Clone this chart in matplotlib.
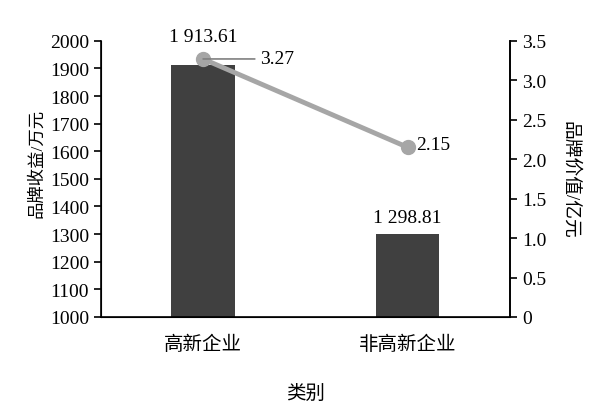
import numpy as np
import matplotlib
matplotlib.use('Agg')
import matplotlib.pyplot as plt

plt.rcParams['font.family'] = ['Liberation Serif', 'Noto Sans CJK SC']

# data
categories = ['高新企业', '非高新企业']
revenue = [1913.61, 1298.81]      # 品牌收益 / 万元
value = [3.27, 2.15]              # 品牌价值 / 亿元
revenue_labels = ['1 913.61', '1 298.81']
value_labels = ['3.27', '2.15']

fig = plt.figure(figsize=(6, 4.14), dpi=100)
ax = fig.add_axes([0.168, 0.232, 0.682, 0.667])
x = np.arange(len(categories))

ax.bar(x, np.array(revenue) - 1000, bottom=1000, width=0.31, color='#404040', zorder=2)
ax.set_ylim(1000, 2000)
ax.set_yticks(np.arange(1000, 2001, 100))
ax.set_xlim(-0.5, 1.5)
ax.set_xticks(x)
ax.set_xticklabels(categories, fontsize=14)
ax.tick_params(axis='y', labelsize=14, direction='out', length=5, width=1.2)
ax.tick_params(axis='x', length=0, pad=13)
ax.set_ylabel('品牌收益/万元', fontsize=12.5)
ax.yaxis.set_label_coords(-0.137, 0.56)
ax.set_xlabel('类别', fontsize=14, labelpad=22)
ax.spines['top'].set_visible(False)
for s in ['left', 'bottom', 'right']:
    ax.spines[s].set_linewidth(1.2)

# bar value labels (first one raised to clear the line marker)
offsets = [14, 6]
for xi, r, lab, off in zip(x, revenue, revenue_labels, offsets):
    ax.annotate(lab, xy=(xi, r), xytext=(0, off), textcoords='offset points',
                ha='center', va='bottom', fontsize=14)

ax2 = ax.twinx()
ax2.plot(x, value, color='#a6a6a6', linewidth=3.5, marker='o', markersize=10, zorder=3)
ax2.set_ylim(0, 3.5)
ax2.set_yticks(np.arange(0, 3.51, 0.5))
ax2.set_yticklabels(['0'] + ['%.1f' % v for v in np.arange(0.5, 3.51, 0.5)])
ax2.tick_params(axis='y', labelsize=14, direction='out', length=5, width=1.2)
ax2.set_ylabel('品牌价值/亿元', fontsize=13.5, rotation=-90, va='center')
ax2.yaxis.set_label_coords(1.145, 0.5)
ax2.spines['top'].set_visible(False)
ax2.spines['right'].set_linewidth(1.2)

# 3.27 label with leader line, 2.15 label beside marker
ax2.annotate(value_labels[0], xy=(x[0], value[0]), xytext=(x[0] + 0.28, value[0]),
             fontsize=14, va='center', ha='left',
             arrowprops=dict(arrowstyle='-', color='#808080', lw=1.2, shrinkA=2, shrinkB=0))
ax2.text(x[1] + 0.04, value[1] + 0.04, value_labels[1], fontsize=14, va='center', ha='left')

fig.savefig('out.png', dpi=100)
